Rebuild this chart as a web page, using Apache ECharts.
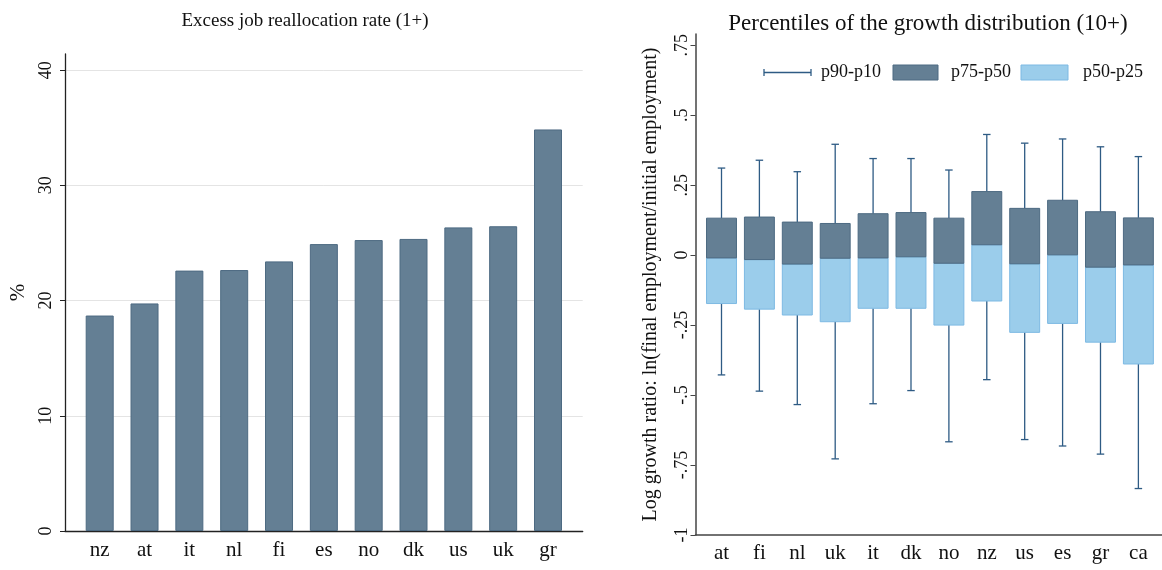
<!DOCTYPE html>
<html>
<head>
<meta charset="utf-8">
<script src="https://cdn.jsdelivr.net/npm/echarts@6/dist/echarts.min.js"></script>
<style>
html,body{margin:0;padding:0;background:#fff;}
#chart{width:1162px;height:570px;}
</style>
</head>
<body>
<div id="chart"></div>
<script>
// ---- Data ----
const leftTitle = 'Excess job reallocation rate (1+)';
const rightTitle = 'Percentiles of the growth distribution (10+)';
const leftCats = ['nz','at','it','nl','fi','es','no','dk','us','uk','gr'];
const leftValues = [18.7, 19.75, 22.6, 22.65, 23.4, 24.9, 25.25, 25.35, 26.35, 26.45, 34.85];
const leftTicks = [0, 10, 20, 30, 40];

const rightCats = ['at','fi','nl','uk','it','dk','no','nz','us','es','gr','ca'];
const p90 = [0.311, 0.339, 0.298, 0.396, 0.345, 0.345, 0.304, 0.431, 0.400, 0.415, 0.387, 0.352];
const p75 = [0.132, 0.136, 0.118, 0.113, 0.148, 0.152, 0.132, 0.227, 0.167, 0.196, 0.155, 0.133];
const p50 = [-0.010, -0.016, -0.032, -0.011, -0.010, -0.006, -0.029, 0.037, -0.031, 0.001, -0.043, -0.035];
const p25 = [-0.173, -0.193, -0.214, -0.238, -0.190, -0.190, -0.250, -0.164, -0.276, -0.244, -0.311, -0.389];
const p10 = [-0.428, -0.486, -0.534, -0.728, -0.531, -0.484, -0.667, -0.445, -0.659, -0.682, -0.711, -0.834];
const rightTicks = [-1, -0.75, -0.5, -0.25, 0, 0.25, 0.5, 0.75];
const legendNames = ['p90-p10', 'p75-p50', 'p50-p25'];

// ---- Style ----
const FONT = '"Liberation Serif", "DejaVu Serif", serif';
const BAR = '#647f94', BAR_BORDER = '#4d6a82';
const LIGHT = '#9bcdeb', LIGHT_BORDER = '#7db9e3';
const WHISK = '#2e5b84';

function stataFmt(v) {
  if (v === 0) return '0';
  const s = String(Math.abs(v)).replace(/^0/, '');
  return (v < 0 ? '-' : '') + s;
}

const chart = echarts.init(document.getElementById('chart'), null, {renderer: 'canvas'});

const boxData = rightCats.map((c, i) => [i, p90[i], p75[i], p50[i], p25[i], p10[i]]);

const option = {
  animation: false,
  backgroundColor: '#fff',
  textStyle: {fontFamily: FONT},
  title: [
    {text: leftTitle, left: 300, top: 7, textAlign: 'center',
     textStyle: {fontFamily: FONT, fontSize: 19, fontWeight: 'normal', color: '#111'}},
    {text: rightTitle, left: 923, top: 7, textAlign: 'center',
     textStyle: {fontFamily: FONT, fontSize: 23, fontWeight: 'normal', color: '#111'}}
  ],
  grid: [
    {left: 65, top: 54, width: 517.7, height: 477},
    {left: 695.5, top: 34, width: 466.5, height: 501}
  ],
  xAxis: [
    {type: 'value', gridIndex: 0, min: -0.774, max: 10.774,
     axisLine: {show: true, onZero: false, lineStyle: {color: '#222', width: 1.3}},
     axisTick: {show: false}, splitLine: {show: false},
     axisLabel: {customValues: leftCats.map((c, i) => i), formatter: v => leftCats[Math.round(v)],
                 fontFamily: FONT, fontSize: 21, color: '#111', margin: 9}},
    {type: 'value', gridIndex: 1, min: -0.686, max: 11.623,
     axisLine: {show: true, onZero: false, lineStyle: {color: '#444', width: 1.5}},
     axisTick: {show: false}, splitLine: {show: false},
     axisLabel: {customValues: rightCats.map((c, i) => i), formatter: v => rightCats[Math.round(v)],
                 fontFamily: FONT, fontSize: 21, color: '#111', margin: 8}}
  ],
  yAxis: [
    {type: 'value', gridIndex: 0, min: 0, max: 41.4,
     name: '%', nameLocation: 'middle', nameGap: 36, nameRotate: 90,
     nameTextStyle: {fontFamily: FONT, fontSize: 21, color: '#111'},
     axisLine: {show: true, onZero: false, lineStyle: {color: '#222', width: 1.3}},
     axisTick: {show: true, length: 5, customValues: leftTicks, lineStyle: {color: '#222'}},
     axisLabel: {customValues: leftTicks, rotate: 90, fontFamily: FONT, fontSize: 18, color: '#111', margin: 10},
     splitLine: {show: true, lineStyle: {color: '#e4e4e4', width: 1}}},
    {type: 'value', gridIndex: 1, min: -1, max: 0.79,
     name: 'Log growth ratio: ln(final employment/initial employment)', nameLocation: 'middle',
     nameGap: 35, nameRotate: 90,
     nameTextStyle: {fontFamily: FONT, fontSize: 20, color: '#111'},
     axisLine: {show: true, onZero: false, lineStyle: {color: '#444', width: 1.5}},
     axisTick: {show: true, length: 5, customValues: rightTicks, lineStyle: {color: '#444'}},
     axisLabel: {customValues: rightTicks, formatter: stataFmt, rotate: 90, fontFamily: FONT,
                 fontSize: 18, color: '#111', margin: 4},
     splitLine: {show: false}}
  ],
  series: [
    {type: 'bar', xAxisIndex: 0, yAxisIndex: 0, barWidth: 28,
     data: leftValues.map((v, i) => [i, v]),
     itemStyle: {color: BAR, borderColor: BAR_BORDER, borderWidth: 1}},
    {type: 'custom', xAxisIndex: 1, yAxisIndex: 1, data: boxData,
     encode: {x: 0, y: [1, 2, 3, 4, 5]},
     renderItem: function (params, api) {
       const i = api.value(0);
       const a90 = api.coord([i, api.value(1)]);
       const a75 = api.coord([i, api.value(2)]);
       const a50 = api.coord([i, api.value(3)]);
       const a25 = api.coord([i, api.value(4)]);
       const a10 = api.coord([i, api.value(5)]);
       const w = api.size([0.79, 0])[0];
       const cap = 7.5;
       const x = a50[0];
       const ls = {stroke: WHISK, lineWidth: 1.3};
       return {type: 'group', children: [
         {type: 'line', shape: {x1: x, y1: a90[1], x2: x, y2: a75[1]}, style: ls},
         {type: 'line', shape: {x1: x - cap / 2, y1: a90[1], x2: x + cap / 2, y2: a90[1]}, style: ls},
         {type: 'line', shape: {x1: x, y1: a25[1], x2: x, y2: a10[1]}, style: ls},
         {type: 'line', shape: {x1: x - cap / 2, y1: a10[1], x2: x + cap / 2, y2: a10[1]}, style: ls},
         {type: 'rect', shape: {x: x - w / 2, y: a50[1], width: w, height: a25[1] - a50[1]},
          style: {fill: LIGHT, stroke: LIGHT_BORDER, lineWidth: 1}},
         {type: 'rect', shape: {x: x - w / 2, y: a75[1], width: w, height: a50[1] - a75[1]},
          style: {fill: BAR, stroke: BAR_BORDER, lineWidth: 1}}
       ]};
     }}
  ],
  graphic: [
    {type: 'line', shape: {x1: 764, y1: 72.5, x2: 811, y2: 72.5}, style: {stroke: WHISK, lineWidth: 1.3}},
    {type: 'line', shape: {x1: 764, y1: 69, x2: 764, y2: 76}, style: {stroke: WHISK, lineWidth: 1.3}},
    {type: 'line', shape: {x1: 811, y1: 69, x2: 811, y2: 76}, style: {stroke: WHISK, lineWidth: 1.3}},
    {type: 'text', x: 821, y: 72.5, style: {text: legendNames[0], font: '18px ' + FONT, fill: '#111', verticalAlign: 'middle'}},
    {type: 'rect', shape: {x: 893, y: 65, width: 45, height: 15}, style: {fill: BAR, stroke: BAR_BORDER, lineWidth: 1}},
    {type: 'text', x: 951, y: 72.5, style: {text: legendNames[1], font: '18px ' + FONT, fill: '#111', verticalAlign: 'middle'}},
    {type: 'rect', shape: {x: 1021, y: 65, width: 47, height: 15}, style: {fill: LIGHT, stroke: LIGHT_BORDER, lineWidth: 1}},
    {type: 'text', x: 1083, y: 72.5, style: {text: legendNames[2], font: '18px ' + FONT, fill: '#111', verticalAlign: 'middle'}}
  ]
};
chart.setOption(option);
</script>
</body>
</html>
